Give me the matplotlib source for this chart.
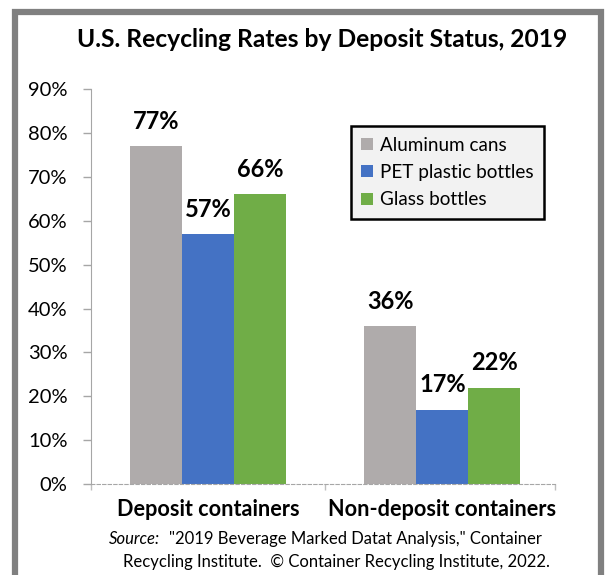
import matplotlib.pyplot as plt
import matplotlib.patches as patches
import numpy as np

plt.rcParams['font.family'] = ['Lato', 'DejaVu Sans']

categories = ["Deposit containers", "Non-deposit containers"]
series = ["Aluminum cans", "PET plastic bottles", "Glass bottles"]
aluminum = [77, 36]
pet = [57, 17]
glass = [66, 22]
colors = ["#AFABAB", "#4472C4", "#70AD47"]

fig = plt.figure(figsize=(6.11, 5.75), dpi=100)
ax = fig.add_axes([0.149, 0.158, 0.759, 0.687])

x = np.arange(len(categories))
w = 0.222
for i, (vals, name, c) in enumerate(zip([aluminum, pet, glass], series, colors)):
    bars = ax.bar(x + (i - 1) * w, vals, w, color=c, label=name, zorder=2)
    for b, v in zip(bars, vals):
        ax.text(b.get_x() + b.get_width() / 2, v + 3, f"{v}%", ha='center', va='bottom',
                fontsize=17, fontweight='bold')

ax.set_ylim(0, 90)
ax.set_xlim(-0.5, 1.48)
ax.set_yticks(range(0, 91, 10))
ax.set_yticklabels([f"{t}%" for t in range(0, 91, 10)], fontsize=14.5)
ax.set_xticks(x)
ax.set_xticklabels(categories, fontsize=15.6, fontweight='bold')
ax.set_xticks([-0.5, 0.5, 1.48], minor=True)
ax.tick_params(axis='y', length=6, color='#A6A6A6', width=1, pad=11)
ax.tick_params(axis='x', which='major', length=0, pad=11)
ax.tick_params(axis='x', which='minor', length=4, color='#BFBFBF', width=1)
for s in ['top', 'right']:
    ax.spines[s].set_visible(False)
ax.spines['left'].set_color('#A6A6A6')
ax.spines['bottom'].set_color('#A6A6A6')
ax.spines['bottom'].set_linestyle((0, (3, 2)))

leg = ax.legend(loc='upper left', bbox_to_anchor=(0.54, 0.93), fontsize=13.6,
                frameon=True, fancybox=False, edgecolor='black', facecolor='#F2F2F2',
                handlelength=0.6, handleheight=0.6, handletextpad=0.4,
                labelspacing=0.55, borderpad=0.55)
leg.get_frame().set_linewidth(1.8)
leg.get_frame().set_alpha(1)

fig.text(0.528, 0.932, "U.S. Recycling Rates by Deposit Status, 2019", ha='center', va='center',
         fontsize=17.7, fontweight='bold')
fig.text(0.178, 0.062, "Source:", ha='left', va='center', fontsize=12, style='italic')
fig.text(0.276, 0.062, "\"2019 Beverage Marked Datat Analysis,\" Container", ha='left',
         va='center', fontsize=12)
fig.text(0.201, 0.023, "Recycling Institute.  \u00a9 Container Recycling Institute, 2022.",
         ha='left', va='center', fontsize=12)

frame = patches.Rectangle((0.025, -0.1), 0.959, 1.08, transform=fig.transFigure,
                          fill=False, edgecolor='#808080', linewidth=4.5, clip_on=False)
fig.patches.append(frame)

fig.savefig("out.png", dpi=100)
